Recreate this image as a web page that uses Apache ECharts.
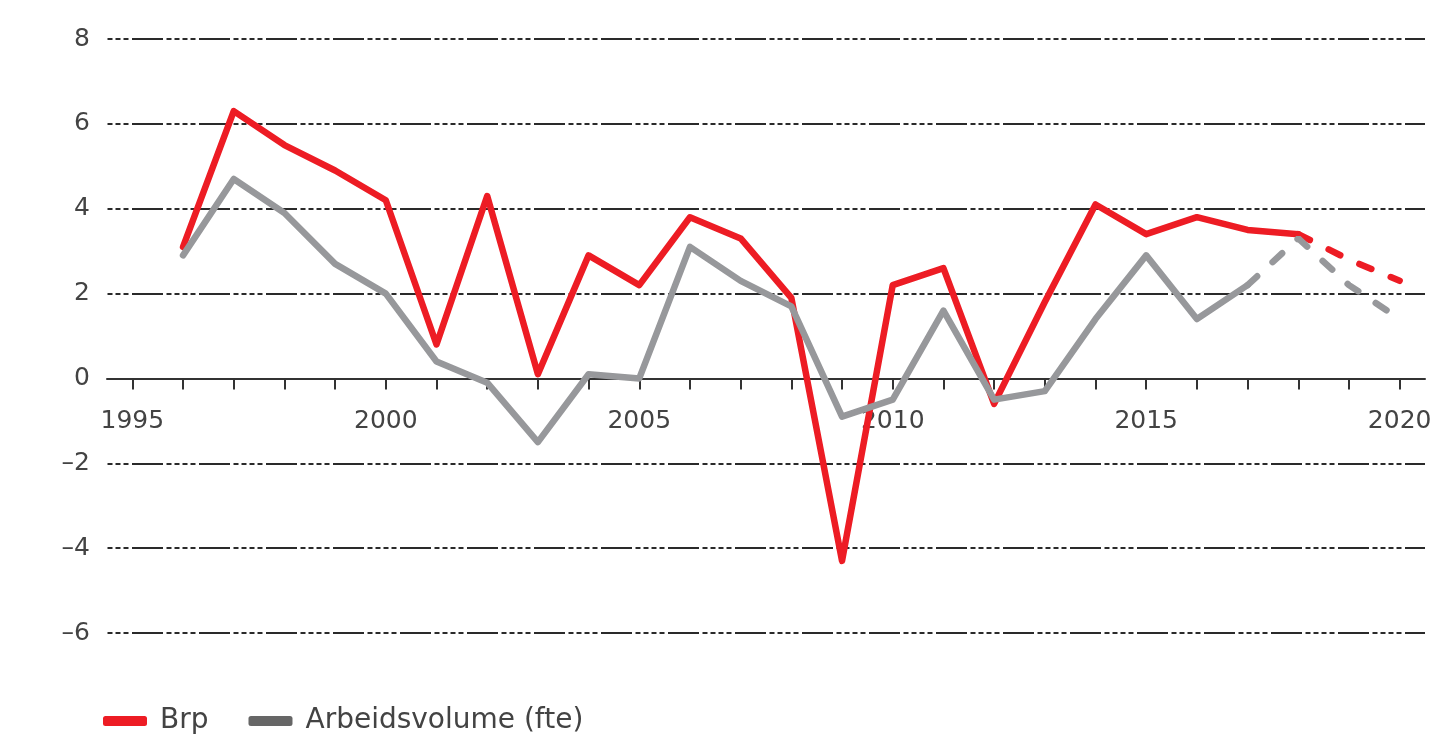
<!DOCTYPE html>
<html>
<head>
<meta charset="utf-8">
<script src="https://cdn.jsdelivr.net/npm/echarts@6/dist/echarts.min.js"></script>
<style>
html,body{margin:0;padding:0;background:#fff;}
#chart{width:1450px;height:743px;}
</style>
</head>
<body>
<div id="chart"></div>
<script>
const years = ['1995','1996','1997','1998','1999','2000','2001','2002','2003','2004','2005','2006','2007','2008','2009','2010','2011','2012','2013','2014','2015','2016','2017','2018','2019','2020'];
const brp = [null, 3.1, 6.3, 5.5, 4.9, 4.2, 0.8, 4.3, 0.1, 2.9, 2.2, 3.8, 3.3, 1.9, -4.3, 2.2, 2.6, -0.6, 1.8, 4.1, 3.4, 3.8, 3.5, 3.4, 2.8, 2.3];
const arbeidsvolume = [null, 2.9, 4.7, 3.9, 2.7, 2.0, 0.4, -0.1, -1.5, 0.1, 0.0, 3.1, 2.3, 1.7, -0.9, -0.5, 1.6, -0.5, -0.3, 1.4, 2.9, 1.4, 2.2, 3.3, 2.2, 1.4];
const brpForecastFrom = '2018';
const arbeidsForecastFrom = '2017';
const yTicks = {min: -6, max: 8, interval: 2};
const seriesNames = ['Brp', 'Arbeidsvolume (fte)'];

function splitSolid(values, from) {
  const idx = years.indexOf(from);
  return values.map((v, i) => i <= idx ? v : null);
}
function splitDashed(values, from) {
  const idx = years.indexOf(from);
  return values.map((v, i) => i >= idx ? v : null);
}

const RED = '#ed1c24';
const GRAY = '#97989b';
const FONT = 'DejaVu Sans';
const TXT = '#434343';

const GRID = {left: 107, right: 25, top: 39, bottom: 110};
const gridH = 743 - GRID.top - GRID.bottom;
const zeroOffset = -gridH * (0 - yTicks.min) / (yTicks.max - yTicks.min);

const chart = echarts.init(document.getElementById('chart'), null, {renderer: 'canvas'});
chart.setOption({
  animation: false,
  backgroundColor: '#fff',
  grid: Object.assign({containLabel: false}, GRID),
  legend: {
    left: 103, top: 707, padding: 0,
    icon: 'roundRect',
    itemWidth: 44, itemHeight: 10,
    itemGap: 40,
    textStyle: {fontFamily: FONT, fontSize: 28, color: TXT, padding: [0, 0, 0, 8]},
    data: [
      {name: seriesNames[0], itemStyle: {color: RED}},
      {name: seriesNames[1], itemStyle: {color: '#666666'}}
    ]
  },
  xAxis: {
    type: 'category',
    data: years,
    boundaryGap: true,
    offset: zeroOffset,
    axisLine: {onZero: false, lineStyle: {color: '#333', width: 2}},
    axisTick: {show: true, alignWithLabel: true, interval: 0, length: 11, lineStyle: {color: '#333', width: 2}},
    axisLabel: {
      interval: (i, v) => Number(v) % 5 === 0,
      margin: 31,
      fontFamily: FONT, fontSize: 25, color: TXT
    },
    splitLine: {show: false}
  },
  yAxis: {
    type: 'value',
    min: yTicks.min, max: yTicks.max, interval: yTicks.interval,
    axisLine: {show: false},
    axisTick: {show: false},
    axisLabel: {
      margin: 17, fontFamily: FONT, fontSize: 25, color: TXT,
      formatter: v => v < 0 ? '\u2013' + Math.abs(v) : String(v)
    },
    splitLine: {
      show: true,
      lineStyle: {color: '#2a2a2a', width: 2, type: [31, 3.5, 5, 3, 5, 3, 5, 3, 5, 3.5], dashOffset: 42}
    }
  },
  series: [
    {
      name: seriesNames[0], type: 'line', data: splitSolid(brp, brpForecastFrom),
      showSymbol: false, symbol: 'none',
      lineStyle: {color: RED, width: 6.5, join: 'round', cap: 'round'},
      itemStyle: {color: RED}, z: 2
    },
    {
      name: 'Brp raming', type: 'line', data: splitDashed(brp, brpForecastFrom),
      showSymbol: false, symbol: 'none',
      lineStyle: {color: RED, width: 6.5, type: [13, 21], cap: 'round'},
      itemStyle: {color: RED}, z: 2
    },
    {
      name: seriesNames[1], type: 'line', data: splitSolid(arbeidsvolume, arbeidsForecastFrom),
      showSymbol: false, symbol: 'none',
      lineStyle: {color: GRAY, width: 6.5, join: 'round', cap: 'round'},
      itemStyle: {color: GRAY}, z: 3
    },
    {
      name: 'Arbeidsvolume raming', type: 'line', data: splitDashed(arbeidsvolume, arbeidsForecastFrom),
      showSymbol: false, symbol: 'none',
      lineStyle: {color: GRAY, width: 6.5, type: [13, 21], cap: 'round'},
      itemStyle: {color: GRAY}, z: 3
    }
  ]
});
</script>
</body>
</html>
